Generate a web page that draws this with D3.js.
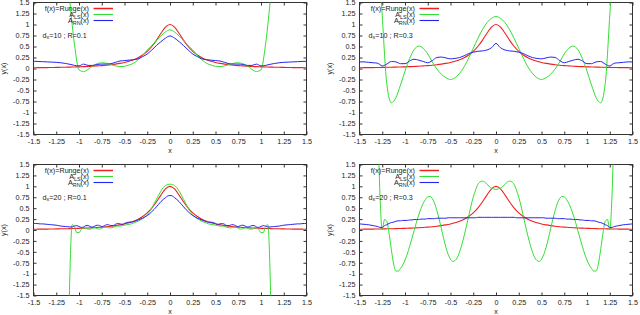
<!DOCTYPE html>
<html>
<head>
<meta charset="utf-8">
<script src="https://cdn.jsdelivr.net/npm/d3@7"></script>
<style>
body { margin: 0; background: #fff; }
svg { display: block; }
</style>
</head>
<body>
<div id="grafico"></div>
<script>
// sample grids (x)
var xCoarse = [-1.5,-1.45,-1.4,-1.35,-1.3,-1.25,-1.2,-1.15,-1.1,-1.05,-1,-0.95,-0.9,-0.85,-0.8,-0.75,-0.7,-0.65,-0.6,-0.55,-0.5,-0.45,-0.4,-0.35,-0.3,-0.25,-0.2,-0.15,-0.1,-0.05,
  0,0.05,0.1,0.15,0.2,0.25,0.3,0.35,0.4,0.45,0.5,0.55,0.6,0.65,0.7,0.75,0.8,0.85,0.9,0.95,1,1.05,1.1,1.15,1.2,1.25,1.3,1.35,1.4,1.45,1.5];

var xFine = [-1.5,-1.475,-1.45,-1.425,-1.4,-1.375,-1.35,-1.325,-1.3,-1.275,-1.25,-1.225,-1.2,-1.175,-1.15,-1.125,-1.1,-1.075,-1.05,-1.025,
  -1,-0.975,-0.95,-0.925,-0.9,-0.875,-0.85,-0.825,-0.8,-0.775,-0.75,-0.725,-0.7,-0.675,-0.65,-0.625,-0.6,-0.575,-0.55,-0.525,
  -0.5,-0.475,-0.45,-0.425,-0.4,-0.375,-0.35,-0.325,-0.3,-0.275,-0.25,-0.225,-0.2,-0.175,-0.15,-0.125,-0.1,-0.075,-0.05,-0.025,
  0,0.025,0.05,0.075,0.1,0.125,0.15,0.175,0.2,0.225,0.25,0.275,0.3,0.325,0.35,0.375,0.4,0.425,0.45,0.475,
  0.5,0.525,0.55,0.575,0.6,0.625,0.65,0.675,0.7,0.725,0.75,0.775,0.8,0.825,0.85,0.875,0.9,0.925,0.95,0.975,
  1,1.025,1.05,1.075,1.1,1.125,1.15,1.175,1.2,1.225,1.25,1.275,1.3,1.325,1.35,1.375,1.4,1.425,1.45,1.475,1.5];

// f(x)=Runge(x), on xCoarse
var runge = [0.017,0.019,0.020,0.021,0.023,0.025,0.027,0.029,0.032,0.035,0.038,0.042,0.047,0.052,0.059,0.066,0.075,0.086,0.1,0.117,0.138,0.165,0.2,0.246,0.308,0.39,0.5,0.64,0.8,0.941,
  1,
  0.941,0.8,0.64,0.5,0.39,0.308,0.246,0.2,0.165,0.138,0.117,0.1,0.086,0.075,0.066,0.059,0.052,0.047,0.042,0.038,0.035,0.032,0.029,0.027,0.025,0.023,0.021,0.020,0.019,0.017];

// dx=10 ; R=0.1 (xCoarse)
var lsA = [26,20,15,11,8,5.8,4,2.6,1.5,0.55,-0.03,-0.07,-0.02,0.06,0.11,0.13,0.12,0.09,0.06,0.045,0.05,0.08,0.12,0.2,0.3,0.42,0.52,0.63,0.74,0.83,
  0.88,
  0.83,0.74,0.63,0.52,0.42,0.3,0.2,0.12,0.08,0.05,0.045,0.06,0.09,0.12,0.13,0.11,0.06,-0.02,-0.07,-0.03,0.55,1.5,2.6,4,5.8,8,11,15,20,26];
var rnA = [0.165,0.16,0.155,0.15,0.145,0.14,0.13,0.115,0.095,0.07,0.06,0.1,0.07,0.07,0.09,0.1,0.1,0.11,0.14,0.17,0.18,0.19,0.2,0.22,0.27,0.33,0.42,0.52,0.61,0.69,
  0.74,
  0.69,0.61,0.52,0.42,0.33,0.27,0.22,0.2,0.19,0.18,0.17,0.14,0.11,0.1,0.1,0.09,0.07,0.07,0.1,0.06,0.07,0.095,0.115,0.13,0.14,0.145,0.15,0.155,0.16,0.165];

// dx=10 ; R=0.3 (xCoarse)
var lsB = [20,14,9,5.5,3,1.2,-0.35,-0.78,-0.66,-0.38,-0.06,0.22,0.43,0.51,0.46,0.33,0.15,-0.01,-0.13,-0.21,-0.25,-0.21,-0.11,0.04,0.24,0.46,0.68,0.88,1.04,1.14,
  1.18,
  1.14,1.04,0.88,0.68,0.46,0.24,0.04,-0.11,-0.21,-0.25,-0.21,-0.13,-0.01,0.15,0.33,0.46,0.51,0.43,0.22,-0.06,-0.38,-0.66,-0.78,-0.35,1.2,3,5.5,9,14,20];
var rnB = [0.15,0.15,0.14,0.13,0.12,0.06,0.1,0.16,0.15,0.11,0.11,0.17,0.21,0.19,0.16,0.13,0.18,0.25,0.26,0.24,0.22,0.23,0.25,0.29,0.34,0.37,0.39,0.4,0.42,0.47,
  0.57,
  0.47,0.42,0.4,0.39,0.37,0.34,0.29,0.25,0.23,0.22,0.24,0.26,0.25,0.18,0.13,0.16,0.19,0.21,0.17,0.11,0.11,0.15,0.16,0.1,0.06,0.12,0.13,0.14,0.15,0.15];

// dx=20 ; R=0.1 (xFine)
var lsC = [-80,-70,-61,-53,-46,-40,-34,-29,-24,-20,-16.5,-13.5,-11,-8.6,-6.4,-3.6,-1.0,0.12,0.08,-0.06,
  -0.06,0.01,0.05,0.04,0.02,0.02,0.04,0.05,0.03,0.02,0.04,0.06,0.06,0.05,0.05,0.06,0.08,0.09,0.09,0.1,
  0.11,0.12,0.13,0.14,0.16,0.18,0.2,0.23,0.26,0.3,0.35,0.42,0.5,0.6,0.7,0.8,0.89,0.97,1.02,1.04,
  1.05,
  1.04,1.02,0.97,0.89,0.8,0.7,0.6,0.5,0.42,0.35,0.3,0.26,0.23,0.2,0.18,0.16,0.14,0.13,0.12,0.11,
  0.1,0.09,0.09,0.08,0.06,0.05,0.05,0.06,0.06,0.04,0.02,0.03,0.05,0.04,0.02,0.02,0.04,0.05,0.01,-0.06,
  -0.06,0.08,0.12,-1.0,-3.6,-6.4,-8.6,-11,-13.5,-16.5,-20,-24,-29,-34,-40,-46,-53,-61,-70,-80];
var rnC = [0.15,0.15,0.145,0.14,0.14,0.135,0.13,0.125,0.12,0.115,0.11,0.1,0.09,0.085,0.08,0.075,0.07,0.07,0.09,0.1,
  0.08,0.06,0.07,0.1,0.1,0.08,0.07,0.09,0.11,0.1,0.08,0.09,0.12,0.12,0.1,0.1,0.13,0.15,0.14,0.13,
  0.15,0.17,0.18,0.18,0.19,0.21,0.23,0.25,0.27,0.3,0.33,0.37,0.42,0.47,0.53,0.59,0.65,0.7,0.74,0.78,
  0.79,
  0.78,0.74,0.7,0.65,0.59,0.53,0.47,0.42,0.37,0.33,0.3,0.27,0.25,0.23,0.21,0.19,0.18,0.18,0.17,0.15,
  0.13,0.14,0.15,0.13,0.1,0.1,0.12,0.12,0.09,0.08,0.1,0.11,0.09,0.07,0.08,0.1,0.1,0.07,0.06,0.08,
  0.1,0.09,0.07,0.07,0.075,0.08,0.085,0.09,0.1,0.11,0.115,0.12,0.125,0.13,0.135,0.14,0.14,0.145,0.15,0.15];

// dx=20 ; R=0.3 (xFine)
var lsD = [40,32,25,19,14,10,7,4.6,2.6,0.8,0.0,0.24,0.2,-0.08,-0.45,-0.78,-0.94,-0.94,-0.88,-0.8,
  -0.69,-0.55,-0.38,-0.2,-0.02,0.17,0.34,0.49,0.61,0.7,0.76,0.77,0.72,0.61,0.45,0.25,0.03,-0.2,-0.4,-0.56,
  -0.67,-0.72,-0.7,-0.63,-0.5,-0.33,-0.13,0.09,0.32,0.55,0.75,0.91,1.04,1.1,1.12,1.1,1.05,1.0,0.96,0.94,
  0.93,
  0.94,0.96,1.0,1.05,1.1,1.12,1.1,1.04,0.91,0.75,0.55,0.32,0.09,-0.13,-0.33,-0.5,-0.63,-0.7,-0.72,-0.67,
  -0.56,-0.4,-0.2,0.03,0.25,0.45,0.61,0.72,0.77,0.76,0.7,0.61,0.49,0.34,0.17,-0.02,-0.2,-0.38,-0.55,-0.69,
  -0.8,-0.88,-0.94,-0.94,-0.78,-0.45,-0.08,0.2,0.24,0.0,0.8,2.6,4.6,7,10,14,19,25,32,40];
var rnD = [0.14,0.135,0.13,0.125,0.12,0.11,0.1,0.09,0.08,0.06,0.06,0.1,0.12,0.15,0.17,0.18,0.2,0.21,0.21,0.22,
  0.22,0.22,0.23,0.23,0.24,0.24,0.24,0.25,0.25,0.25,0.26,0.26,0.26,0.26,0.27,0.27,0.27,0.27,0.27,0.28,
  0.28,0.28,0.28,0.28,0.28,0.28,0.28,0.28,0.28,0.28,0.28,0.28,0.29,0.29,0.29,0.29,0.29,0.29,0.29,0.29,
  0.29,
  0.29,0.29,0.29,0.29,0.29,0.29,0.29,0.29,0.28,0.28,0.28,0.28,0.28,0.28,0.28,0.28,0.28,0.28,0.28,0.28,
  0.28,0.27,0.27,0.27,0.27,0.27,0.26,0.26,0.26,0.26,0.25,0.25,0.25,0.24,0.24,0.24,0.23,0.23,0.22,0.22,
  0.22,0.21,0.21,0.2,0.18,0.17,0.15,0.12,0.1,0.06,0.06,0.08,0.09,0.1,0.11,0.12,0.125,0.13,0.135,0.14];

var tickVals = [-1.5,-1.25,-1,-0.75,-0.5,-0.25,0,0.25,0.5,0.75,1,1.25,1.5];
var tickLabels = ["-1.5","-1.25","-1","-0.75","-0.5","-0.25","0","0.25","0.5","0.75","1","1.25","1.5"];

var dxLabels = ["10","10","20","20"];
var rLabels = ["0.1","0.3","0.1","0.3"];

var FONT = "Liberation Sans, Arial, sans-serif";
var FS = 7.2;
var colRed = "#f02020", colGreen = "#33dd33", colBlue = "#2525f0";

// layout of the 4 panels
var panels = [
  {left: 33.5, top: 2.5, w: 273, h: 132, xs: xCoarse, ls: lsA, rn: rnA},
  {left: 359.5, top: 2.5, w: 273, h: 132, xs: xCoarse, ls: lsB, rn: rnB},
  {left: 33.5, top: 164.5, w: 273, h: 131, xs: xFine, ls: lsC, rn: rnC},
  {left: 359.5, top: 164.5, w: 273, h: 131, xs: xFine, ls: lsD, rn: rnD}
];

var svg = d3.select("#grafico")
  .append("svg")
  .attr("width", 640)
  .attr("height", 315)
  .style("font-family", FONT);

function fmt(d) { return tickLabels[tickVals.indexOf(d)]; }

panels.forEach(function(p, i) {
  var g = svg.append("g")
    .attr("transform", "translate(" + p.left + "," + p.top + ")");

  var x = d3.scaleLinear().domain([-1.5, 1.5]).range([0, p.w]);
  var y = d3.scaleLinear().domain([-1.5, 1.5]).range([p.h, 0]);

  g.append("clipPath").attr("id", "clip" + i)
    .append("rect").attr("x", 0).attr("y", 0).attr("width", p.w).attr("height", p.h);

  // axes, gnuplot style: inward ticks on all four sides
  var ax = [
    g.append("g").attr("transform", "translate(0," + p.h + ")")
      .call(d3.axisBottom(x).tickValues(tickVals).tickSize(-3).tickPadding(4.5).tickFormat(fmt)),
    g.append("g")
      .call(d3.axisLeft(y).tickValues(tickVals).tickSize(-3).tickPadding(4).tickFormat(fmt)),
    g.append("g")
      .call(d3.axisTop(x).tickValues(tickVals).tickSize(-3).tickFormat("")),
    g.append("g").attr("transform", "translate(" + p.w + ",0)")
      .call(d3.axisRight(y).tickValues(tickVals).tickSize(-3).tickFormat(""))
  ];
  ax.forEach(function(a) {
    a.attr("font-family", FONT).attr("font-size", FS);
    a.select(".domain").remove();
    a.selectAll("line").attr("stroke", "#333");
    a.selectAll("text").attr("fill", "#222");
  });

  g.append("rect")
    .attr("width", p.w).attr("height", p.h)
    .attr("fill", "none").attr("stroke", "#333").attr("stroke-width", 1);

  // axis titles
  g.append("text")
    .attr("x", p.w / 2).attr("y", p.h + 18.5)
    .attr("text-anchor", "middle")
    .attr("font-size", FS).attr("fill", "#222")
    .text("x");
  g.append("text")
    .attr("transform", "translate(-27.5," + (p.h / 2) + ") rotate(-90)")
    .attr("text-anchor", "middle")
    .attr("font-size", FS).attr("fill", "#222")
    .text("y(x)");

  // curves
  var plot = g.append("g").attr("clip-path", "url(#clip" + i + ")");
  function line(xs) {
    return d3.line()
      .x(function(d, k) { return x(xs[k]); })
      .y(function(d) { return y(d); })
      .curve(d3.curveMonotoneX);
  }
  plot.append("path").datum(runge)
    .attr("fill", "none").attr("stroke", colRed).attr("stroke-width", 1.1)
    .attr("d", line(xCoarse));
  plot.append("path").datum(p.ls)
    .attr("fill", "none").attr("stroke", colGreen).attr("stroke-width", 1)
    .attr("d", line(p.xs));
  plot.append("path").datum(p.rn)
    .attr("fill", "none").attr("stroke", colBlue).attr("stroke-width", 1)
    .attr("d", line(p.xs));

  // legend
  var rows = [
    {main: "f(x)=Runge(x)", sub: null, col: colRed},
    {main: "A", sub: "LS", col: colGreen},
    {main: "A", sub: "RN", col: colBlue}
  ];
  rows.forEach(function(r, k) {
    var cy = 6 + 6 * k;
    var t = g.append("text")
      .attr("x", 55.5).attr("y", cy + 2.5)
      .attr("text-anchor", "end")
      .attr("font-size", FS).attr("fill", "#222");
    if (r.sub) {
      t.append("tspan").text(r.main);
      t.append("tspan").attr("dy", 1.6).attr("font-size", 5.4).text(r.sub);
      t.append("tspan").attr("dy", -1.6).text("(x)");
    } else {
      t.text(r.main);
    }
    g.append("line")
      .attr("x1", 60).attr("x2", 79.5)
      .attr("y1", cy).attr("y2", cy)
      .attr("stroke", r.col).attr("stroke-width", k === 0 ? 1.5 : 1.1);
  });

  var lab = g.append("text")
    .attr("x", 9).attr("y", 35)
    .attr("font-size", FS).attr("fill", "#222");
  lab.append("tspan").text("d");
  lab.append("tspan").attr("dy", 1.8).attr("font-size", 5.4).text("x");
  lab.append("tspan").attr("dy", -1.8).text("=" + dxLabels[i] + " ; R=" + rLabels[i]);
});
</script>
</body>
</html>
